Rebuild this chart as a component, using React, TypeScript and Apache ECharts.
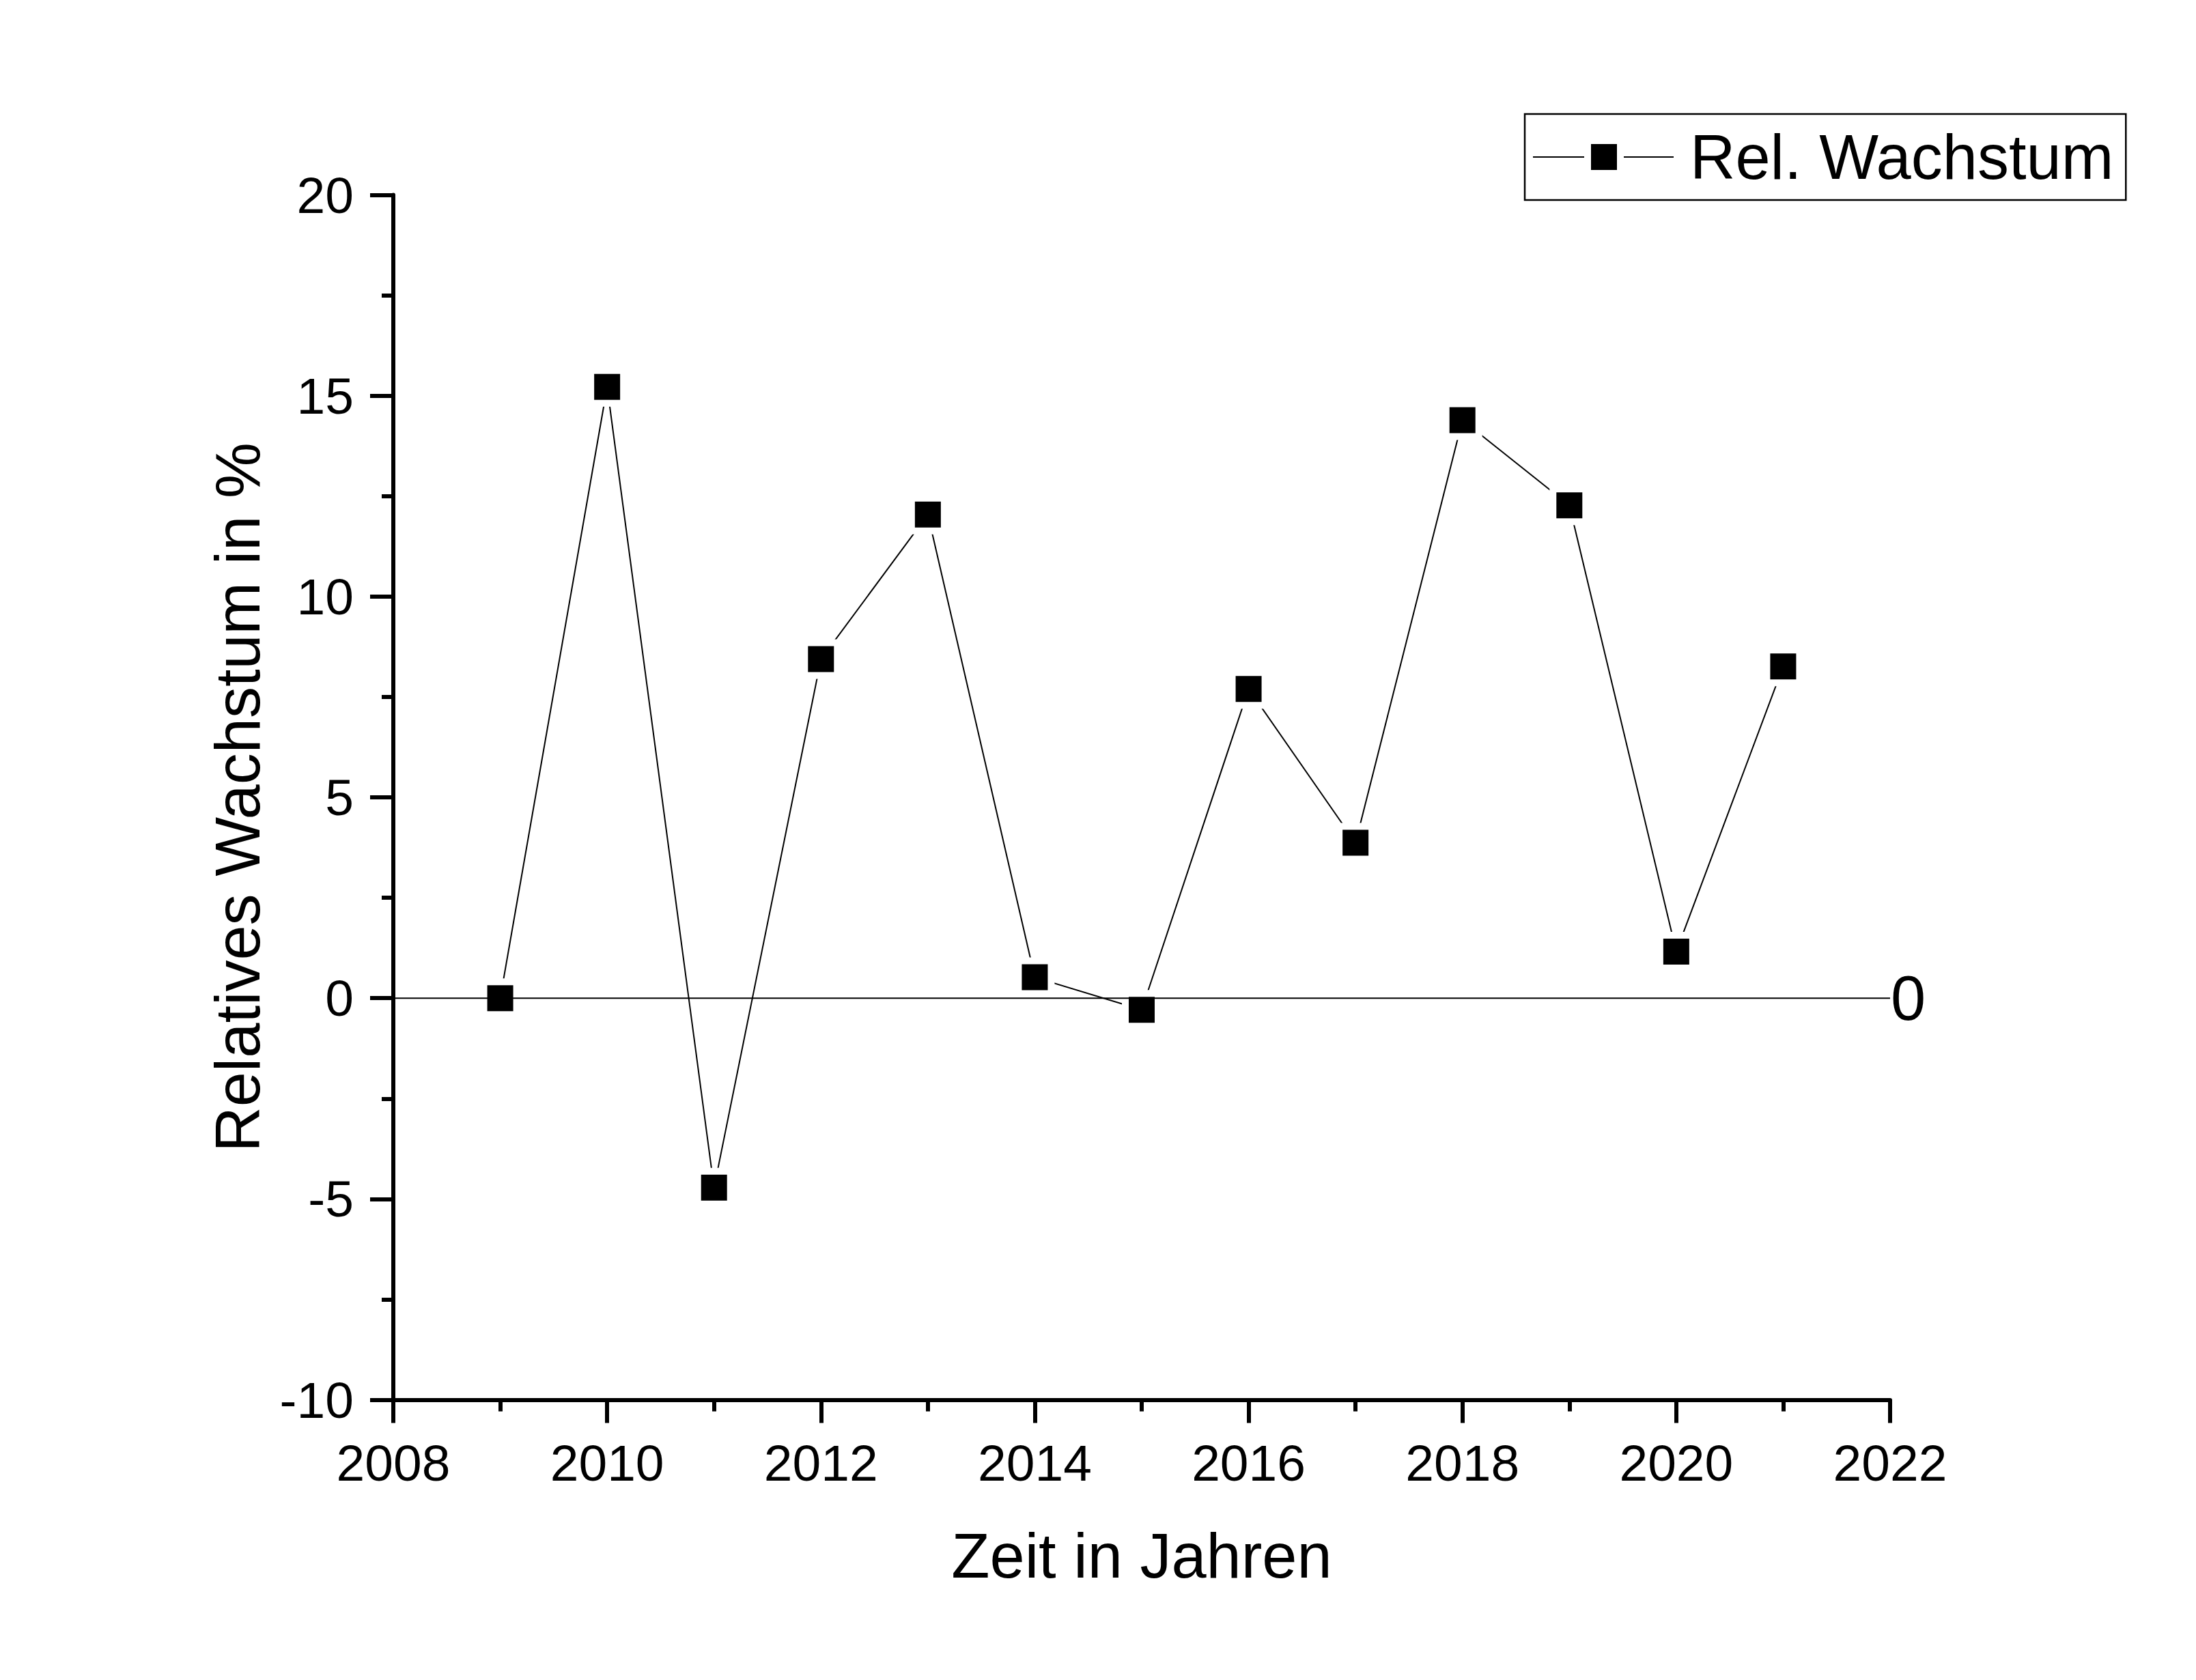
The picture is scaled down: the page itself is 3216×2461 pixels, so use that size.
import React, { useEffect, useRef } from "react";
import * as echarts from "echarts";

const years = [2009, 2010, 2011, 2012, 2013, 2014, 2015, 2016, 2017, 2018, 2019, 2020, 2021];
const growth = [0.0, 15.22, -4.72, 8.44, 12.04, 0.52, -0.29, 7.7, 3.87, 14.39, 12.27, 1.16, 8.26];
const zeroLineX = [2008, 2022];
const zeroLineY = [0, 0];
const seriesName = "Rel. Wachstum";
const xTitle = "Zeit in Jahren";
const yTitle = "Relatives Wachstum in %";

const FONT = "Liberation Sans, Arial, sans-serif";

export default function App() {
  const ref = useRef<HTMLDivElement>(null);
  useEffect(() => {
    document.body.style.margin = "0";
    if (!ref.current) return;
    const chart = echarts.init(ref.current, undefined, { renderer: "svg" });
    const pts = years.map((y, i) => [y, growth[i]]);
    const zeroPts = zeroLineX.map((x, i) => [x, zeroLineY[i]]);
    const axisCommon = {
      axisLine: { show: true, onZero: false, lineStyle: { color: "#000", width: 6 } },
      axisTick: { show: true, inside: false, length: 34, lineStyle: { color: "#000", width: 6 } },
      minorTick: { show: true, splitNumber: 2, length: 17, lineStyle: { color: "#000", width: 6 } },
      splitLine: { show: false },
      minorSplitLine: { show: false },
      nameLocation: "middle" as const,
      nameTextStyle: { fontFamily: FONT, fontSize: 92, color: "#000" },
    };
    chart.setOption({
      animation: false,
      backgroundColor: "#fff",
      grid: { left: 576, right: 448, top: 285.5, bottom: 410.5, containLabel: false },
      legend: {
        show: true,
        data: [seriesName],
        left: 2233,
        top: 167,
        orient: "vertical",
        padding: [17, 18, 17, 12],
        borderColor: "#000",
        borderWidth: 2.5,
        backgroundColor: "#fff",
        itemWidth: 206,
        itemHeight: 38,
        icon: "path://M0,18H75V20H0Z M85,0H123V38H85Z M133,18H206V20H133Z",
        selectedMode: false,
        textStyle: { fontFamily: FONT, fontSize: 92, color: "#000", padding: [0, 0, 0, 19] },
      },
      xAxis: {
        type: "value",
        min: 2008,
        max: 2022,
        interval: 2,
        name: xTitle,
        nameGap: 182,
        ...axisCommon,
        axisLabel: {
          fontFamily: FONT,
          fontSize: 75,
          color: "#000",
          margin: 55,
          formatter: (v: number) => String(v),
        },
      },
      yAxis: {
        type: "value",
        min: -10,
        max: 20,
        interval: 5,
        name: yTitle,
        nameGap: 182,
        ...axisCommon,
        axisLabel: {
          fontFamily: FONT,
          fontSize: 75,
          color: "#000",
          margin: 58,
          formatter: (v: number) => String(v),
        },
      },
      series: [
        {
          name: "line",
          type: "line",
          data: pts,
          symbol: "none",
          z: 2,
          lineStyle: { color: "#000", width: 2 },
          silent: true,
        },
        {
          name: "halo",
          type: "scatter",
          data: pts,
          symbol: "rect",
          symbolSize: 38,
          z: 3,
          itemStyle: { color: "#fff", borderColor: "#fff", borderWidth: 20, opacity: 1 },
          silent: true,
        },
        {
          name: "zero",
          type: "line",
          data: zeroPts,
          symbol: "none",
          z: 4,
          lineStyle: { color: "#000", width: 2 },
          endLabel: {
            show: true,
            formatter: "0",
            fontFamily: FONT,
            fontSize: 92,
            color: "#000",
            distance: 1,
          },
          silent: true,
        },
        {
          name: seriesName,
          type: "scatter",
          data: pts,
          symbol: "rect",
          symbolSize: 38,
          z: 5,
          itemStyle: { color: "#000", opacity: 1 },
          silent: true,
        },
      ],
    });
    return () => chart.dispose();
  }, []);
  return <div ref={ref} style={{ width: 3216, height: 2461 }} />;
}
